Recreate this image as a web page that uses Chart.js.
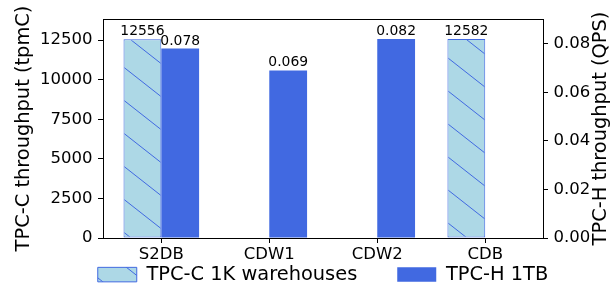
<!DOCTYPE html>
<html>
<head>
<meta charset="utf-8">
<script src="https://cdn.jsdelivr.net/npm/chart.js@4.4.0/dist/chart.umd.min.js"></script>
<style>
  html, body { margin: 0; padding: 0; background: #fff; }
  canvas { display: block; }
</style>
</head>
<body>
<canvas id="chartContainer" width="616" height="286"></canvas>
<script>
// Values
const categories = ['S2DB', 'CDW1', 'CDW2', 'CDB'];
const seriesNames = ['TPC-C 1K warehouses', 'TPC-H 1TB'];
const tpccValues = [12556, 0, 0, 12582];
const tpchValues = [0.078, 0.069, 0.082, 0];
const tpccTicks = [0, 2500, 5000, 7500, 10000, 12500];
const tpchTicks = [0, 0.02, 0.04, 0.06, 0.08];
const rightTitle = 'TPC-H throughput (QPS)';

const black = '#000000';
const royal = '#4169e1';
const light = '#add8e6';

Chart.defaults.font.family = '"DejaVu Sans"';
Chart.defaults.color = black;

// Light blue fill with "\" hatch lines
function makeHatch(ctx) {
    const tile = document.createElement('canvas');
    tile.width = 42;
    tile.height = 33;
    const g = tile.getContext('2d');
    g.fillStyle = light;
    g.fillRect(0, 0, 42, 33);
    g.strokeStyle = royal;
    g.lineWidth = 1;
    g.beginPath();
    for (let k = -1; k <= 1; k++) {
        g.moveTo(0, 3 + 33 * k);
        g.lineTo(42, 36 + 33 * k);
    }
    g.stroke();
    return ctx.createPattern(tile, 'repeat');
}

// Numbers above the non-zero bars
const valueLabels = {
    id: 'valueLabels',
    afterDatasetsDraw(chart) {
        const ctx = chart.ctx;
        ctx.save();
        ctx.font = '13.9px "DejaVu Sans"';
        ctx.fillStyle = black;
        ctx.textAlign = 'center';
        ctx.textBaseline = 'alphabetic';
        chart.data.datasets.forEach((ds, di) => {
            chart.getDatasetMeta(di).data.forEach((bar, i) => {
                const v = ds.data[i].y;
                if (!v) return;
                const txt = di === 1 ? v.toFixed(3) : String(v);
                ctx.fillText(txt, bar.x, bar.y - 4);
            });
        });
        ctx.restore();
    }
};

// Right axis title reads bottom-to-top, like the left one
const rightAxisTitle = {
    id: 'rightAxisTitle',
    afterDraw(chart) {
        const s = chart.scales.y1;
        const ctx = chart.ctx;
        ctx.save();
        ctx.translate(s.right - 15, (s.top + s.bottom) / 2);
        ctx.rotate(-Math.PI / 2);
        ctx.font = '19.4px "DejaVu Sans"';
        ctx.fillStyle = black;
        ctx.textAlign = 'center';
        ctx.textBaseline = 'middle';
        ctx.fillText(rightTitle, 0, 0);
        ctx.restore();
    }
};

// Put the legend row under the plot, centred on the axes
const legendPlace = {
    id: 'legendPlace',
    afterLayout(chart) {
        const lg = chart.legend;
        const ca = chart.chartArea;
        const pad = lg.options.labels.padding;
        lg.top = ca.bottom + 26.9 - pad;
        lg.bottom = chart.height;
        const dx = (ca.left + ca.right) / 2 - (lg.left + lg.right) / 2;
        lg.left += dx;
        lg.right += dx;
    }
};

const ctx = document.getElementById('chartContainer').getContext('2d');

new Chart(ctx, {
    type: 'bar',
    data: {
        datasets: [{
            label: seriesNames[0],
            data: tpccValues.map((v, i) => ({ x: i, y: v })),
            backgroundColor: makeHatch(ctx),
            borderColor: royal,
            borderWidth: 1,
            borderSkipped: false,
            xAxisID: 'x',
            yAxisID: 'y'
        }, {
            label: seriesNames[1],
            data: tpchValues.map((v, i) => ({ x: i, y: v })),
            backgroundColor: royal,
            borderWidth: 0,
            xAxisID: 'x',
            yAxisID: 'y1'
        }]
    },
    options: {
        responsive: false,
        animation: false,
        devicePixelRatio: 1,
        categoryPercentage: 0.7,
        barPercentage: 1,
        layout: { padding: { top: 19, left: 0, right: 0, bottom: 0 } },
        plugins: {
            tooltip: { enabled: false },
            legend: {
                position: 'bottom',
                maxHeight: 20,
                labels: {
                    boxWidth: 39,
                    boxHeight: 14.5,
                    padding: 40,
                    color: black,
                    font: { size: 19.4 }
                }
            }
        },
        scales: {
            x: {
                type: 'linear',
                position: 'bottom',
                offset: false,
                min: -0.54,
                max: 3.535,
                afterBuildTicks: s => { s.ticks = categories.map((c, i) => ({ value: i })); },
                afterFit: s => { s.height = 28; },
                ticks: {
                    callback: v => categories[v],
                    autoSkip: false,
                    maxRotation: 0,
                    padding: 1.5,
                    color: black,
                    font: { size: 16.5 }
                },
                grid: { offset: false, drawOnChartArea: false, tickLength: 5, color: black, tickColor: black },
                border: { color: black, width: 1 }
            },
            xTop: {
                type: 'linear',
                position: 'top',
                offset: false,
                min: -0.54,
                max: 3.535,
                afterFit: s => { s.height = 0; },
                ticks: { display: false },
                grid: { display: false },
                border: { color: black, width: 1 }
            },
            y: {
                type: 'linear',
                position: 'left',
                min: 0,
                max: 13840,
                afterBuildTicks: s => { s.ticks = tpccTicks.map(v => ({ value: v })); },
                afterFit: s => { s.width = 103; },
                ticks: {
                    callback: v => String(v),
                    padding: 5.5,
                    color: black,
                    font: { size: 16.5 }
                },
                grid: { drawOnChartArea: false, tickLength: 5, color: black, tickColor: black },
                border: { color: black, width: 1 },
                title: {
                    display: true,
                    text: 'TPC-C throughput (tpmC)',
                    color: black,
                    font: { size: 19.4 },
                    padding: { top: 12.4, bottom: 0 }
                }
            },
            y1: {
                type: 'linear',
                position: 'right',
                min: 0,
                max: 0.0902,
                afterBuildTicks: s => { s.ticks = tpchTicks.map(v => ({ value: v })); },
                afterFit: s => { s.width = 73; },
                ticks: {
                    callback: v => v.toFixed(2),
                    padding: 5.5,
                    color: black,
                    font: { size: 16.5 }
                },
                grid: { drawOnChartArea: false, tickLength: 5, color: black, tickColor: black },
                border: { color: black, width: 1 }
            }
        }
    },
    plugins: [valueLabels, rightAxisTitle, legendPlace]
});
</script>
</body>
</html>
